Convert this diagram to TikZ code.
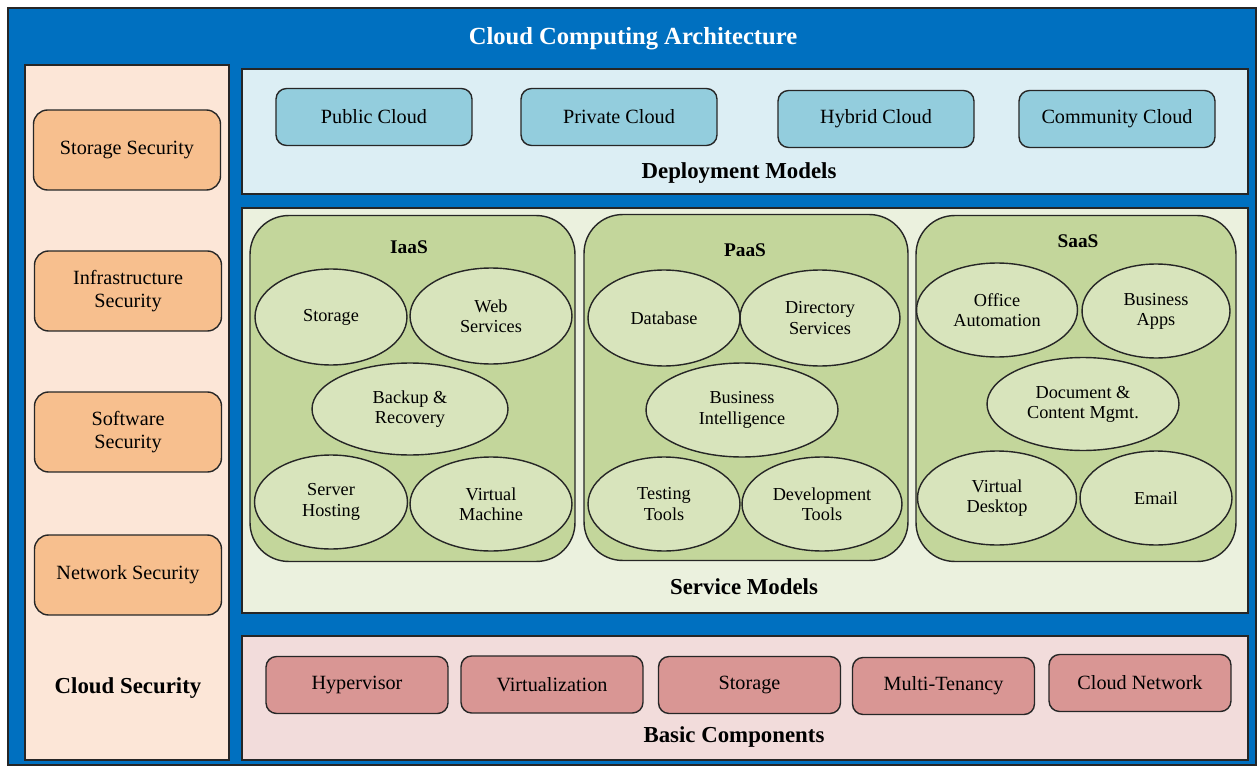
\documentclass[tikz,border=0pt]{standalone}
\usepackage{fontspec}
\setmainfont{Liberation Serif}
\usepackage{tikz}
\usetikzlibrary{shapes}
\definecolor{archblue}{HTML}{0070C0}
\definecolor{secpanel}{HTML}{FCE6D7}
\definecolor{secbox}{HTML}{F7BF8E}
\definecolor{deppanel}{HTML}{DCEEF4}
\definecolor{depbox}{HTML}{93CDDD}
\definecolor{srvpanel}{HTML}{EBF1DE}
\definecolor{srvbox}{HTML}{C3D69B}
\definecolor{srvell}{HTML}{D8E4BC}
\definecolor{bscpanel}{HTML}{F2DCDB}
\definecolor{bscbox}{HTML}{D99694}
\tikzstyle{panel_normal} = [rectangle, draw=black!85, line width=0.8pt, inner sep=0pt]
\tikzstyle{box_normal} = [rectangle, draw=black!85, line width=0.8pt, inner sep=0pt, align=center, font=\fontsize{11.5}{13}\selectfont]
\tikzstyle{box_security} = [box_normal, fill=secbox, rounded corners=8pt, minimum width=3.74cm, minimum height=1.6cm]
\tikzstyle{box_deploy} = [box_normal, fill=depbox, rounded corners=6pt, minimum width=3.92cm, minimum height=1.14cm]
\tikzstyle{box_basic} = [box_normal, fill=bscbox, rounded corners=6pt, minimum width=3.64cm, minimum height=1.14cm]
\tikzstyle{box_service} = [rectangle, draw=black!85, line width=0.8pt, fill=srvbox, rounded corners=22pt, inner sep=0pt, minimum height=6.92cm]
\tikzstyle{ell_normal} = [ellipse, draw=black!85, line width=0.8pt, fill=srvell, inner sep=0pt, align=center, minimum height=1.88cm, font=\fontsize{10.4}{11.5}\selectfont]
\tikzstyle{label_normal} = [font=\bfseries\fontsize{13}{15}\selectfont]
\tikzstyle{label_small} = [font=\bfseries\fontsize{11}{13}\selectfont]

\begin{document}
\begin{tikzpicture}[x=0.02cm, y=-0.02cm]
			\useasboundingbox (0,0) rectangle (1258,767);
			% outer frame and title
			\node (frame) at (632,386.5) [panel_normal, fill=archblue, minimum width=24.96cm, minimum height=15.14cm] {};
			\node (title) at (633,39) [font=\bfseries\fontsize{14}{16}\selectfont, text=white] {Cloud Computing Architecture};
			% panels
			\node (P1) at (127,412.5) [panel_normal, fill=secpanel, minimum width=4.08cm, minimum height=13.9cm] {};
			\node (P2) at (745,131.5) [panel_normal, fill=deppanel, minimum width=20.12cm, minimum height=2.5cm] {};
			\node (P3) at (745,410.5) [panel_normal, fill=srvpanel, minimum width=20.12cm, minimum height=8.1cm] {};
			\node (P4) at (745,698) [panel_normal, fill=bscpanel, minimum width=20.12cm, minimum height=2.48cm] {};
			% cloud security
			\node (S1) at (127,150) [box_security] {Storage Security};
			\node (S2) at (128,291) [box_security] {Infrastructure\\Security};
			\node (S3) at (128,432) [box_security] {Software\\Security};
			\node (S4) at (128,575) [box_security] {Network Security};
			\node (L1) at (128,688) [label_normal] {Cloud Security};
			% deployment models
			\node (D1) at (374,117) [box_deploy] {Public Cloud};
			\node (D2) at (619,117) [box_deploy] {Private Cloud};
			\node (D3) at (876,119) [box_deploy] {Hybrid Cloud};
			\node (D4) at (1117,119) [box_deploy] {Community Cloud};
			\node (L2) at (739,173) [label_normal] {Deployment Models};
			% service models
			\node (I) at (412.5,388.5) [box_service, minimum width=6.5cm] {};
			\node (P) at (746,387.5) [box_service, minimum width=6.48cm] {};
			\node (S) at (1076,388.5) [box_service, minimum width=6.4cm] {};
			\node (IL) at (409,247) [label_small] {IaaS};
			\node (PL) at (745,250) [label_small] {PaaS};
			\node (SL) at (1078,241) [label_small] {SaaS};
			\node (I1) at (331,317) [ell_normal, minimum width=3.04cm, minimum height=1.92cm] {Storage};
			\node (I2) at (491,316) [ell_normal, minimum width=3.24cm, minimum height=1.92cm] {Web\\Services};
			\node (I3) at (410,409) [ell_normal, minimum width=3.92cm, minimum height=1.84cm] {Backup \&\\Recovery};
			\node (I4) at (331,502) [ell_normal, minimum width=3.06cm] {Server\\Hosting};
			\node (I5) at (491,504) [ell_normal, minimum width=3.24cm] {Virtual\\Machine};
			\node (P1e) at (664,318) [ell_normal, minimum width=3.04cm, minimum height=1.92cm] {Database};
			\node (P2e) at (820,318) [ell_normal, minimum width=3.2cm, minimum height=1.92cm] {Directory\\Services};
			\node (P3e) at (742,410) [ell_normal, minimum width=3.84cm] {Business\\Intelligence};
			\node (P4e) at (664,504) [ell_normal, minimum width=3.04cm] {Testing\\Tools};
			\node (P5e) at (822,504) [ell_normal, minimum width=3.2cm] {Development\\Tools};
			\node (S1e) at (997,310) [ell_normal, minimum width=3.22cm] {Office\\Automation};
			\node (S2e) at (1156,311) [ell_normal, minimum width=2.96cm] {Business\\Apps};
			\node (S3e) at (1083,404) [ell_normal, minimum width=3.84cm, minimum height=1.86cm] {Document \&\\Content Mgmt.};
			\node (S4e) at (997,498) [ell_normal, minimum width=3.18cm] {Virtual\\Desktop};
			\node (S5e) at (1156,498) [ell_normal, minimum width=3.04cm] {Email};
			\node (L3) at (744,587) [label_normal] {Service Models};
			% basic components
			\node (B1) at (357,685) [box_basic] {Hypervisor};
			\node (B2) at (552,684.5) [box_basic] {Virtualization};
			\node (B3) at (749.5,685) [box_basic] {Storage};
			\node (B4) at (943.5,686) [box_basic] {Multi-Tenancy};
			\node (B5) at (1140,683) [box_basic] {Cloud Network};
			\node (L4) at (734,737) [label_normal] {Basic Components};
		\end{tikzpicture}
\end{document}
